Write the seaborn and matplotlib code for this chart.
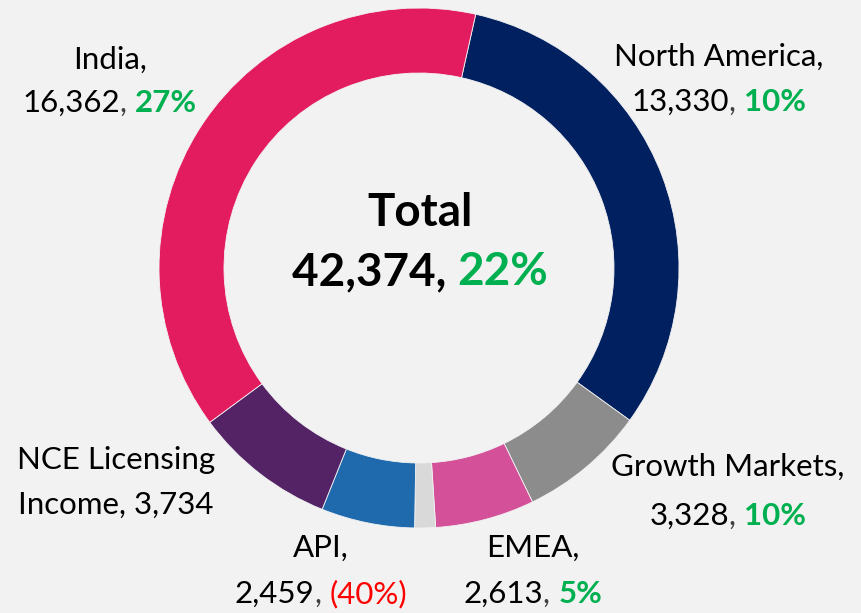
import matplotlib
matplotlib.use('Agg')
import matplotlib.pyplot as plt
import seaborn as sns

# revenue by region, clockwise from the top
regions = ['North America', 'Growth Markets', 'EMEA', 'Others', 'API',
           'NCE Licensing Income', 'India']
revenue = [13330, 3328, 2613, 548, 2459, 3734, 16362]
growth = ['10%', '10%', '5%', None, '(40%)', None, '27%']
total_revenue = 42374
total_growth = '22%'

colors = ['#002060', '#8c8c8c', '#d4519a', '#d9d9d9', '#1f69ad', '#532366', '#e31c5f']
GREEN = '#00b050'
RED = '#ff0000'
BG = '#f2f2f2'

sns.set_theme(style='white')
plt.rcParams['font.family'] = ['Lato', 'DejaVu Sans']

W, H = 861, 613
fig = plt.figure(figsize=(W / 100, H / 100), dpi=100)
fig.patch.set_facecolor(BG)

cx, cy, R = 419, 268, 260
ax = fig.add_axes([(cx - R) / W, (H - cy - R) / H, 2 * R / W, 2 * R / H])
ax.set_facecolor(BG)
ax.pie(revenue, colors=colors, startangle=77.4, counterclock=False, radius=1,
       wedgeprops=dict(width=0.25, edgecolor=BG, linewidth=0.6))
ax.set_xlim(-1, 1)
ax.set_ylim(-1, 1)
ax.set_aspect('equal')
ax.axis('off')

fig.canvas.draw()
renderer = fig.canvas.get_renderer()


def line(parts, x, y, size):
    # parts: list of (text, color, weight); drawn centred at pixel (x, y)
    texts = []
    for s, c, w in parts:
        t = fig.text(0, 0, s, color=c, fontsize=size, fontweight=w,
                     ha='left', va='center')
        texts.append(t)
    widths = [t.get_window_extent(renderer).width for t in texts]
    start = x - sum(widths) / 2
    for t, wd in zip(texts, widths):
        t.set_position((start / W, 1 - y / H))
        start += wd


def growth_part(g):
    if g is None:
        return []
    if g.startswith('('):
        return [(g, RED, 'normal')]
    return [(g, GREEN, 'bold')]


FS = 22.5
label_pos = {
    'North America': (719, 57, 102),
    'Growth Markets': (728, 467, 516),
    'EMEA': (533, 548, 594),
    'API': (321, 548, 594),
    'India': (110, 60, 103),
}
for name, val, g in zip(regions, revenue, growth):
    if name in label_pos:
        x, y1, y2 = label_pos[name]
        line([(name + ',', 'black', 'normal')], x, y1, FS)
        line([(f'{val:,}', 'black', 'normal'), (', ', '#404040', 'normal')]
             + growth_part(g), x, y2, FS)
    elif name == 'NCE Licensing Income':
        line([('NCE Licensing', 'black', 'normal')], 116, 460, FS)
        line([(f'Income, {val:,}', 'black', 'normal')], 116, 505, FS)

line([('Total', 'black', 'bold')], 420, 213, 33)
line([(f'{total_revenue:,}, ', 'black', 'bold'), (total_growth, GREEN, 'bold')],
     420, 272, 33)

fig.savefig('out.png', dpi=100, facecolor=BG)
